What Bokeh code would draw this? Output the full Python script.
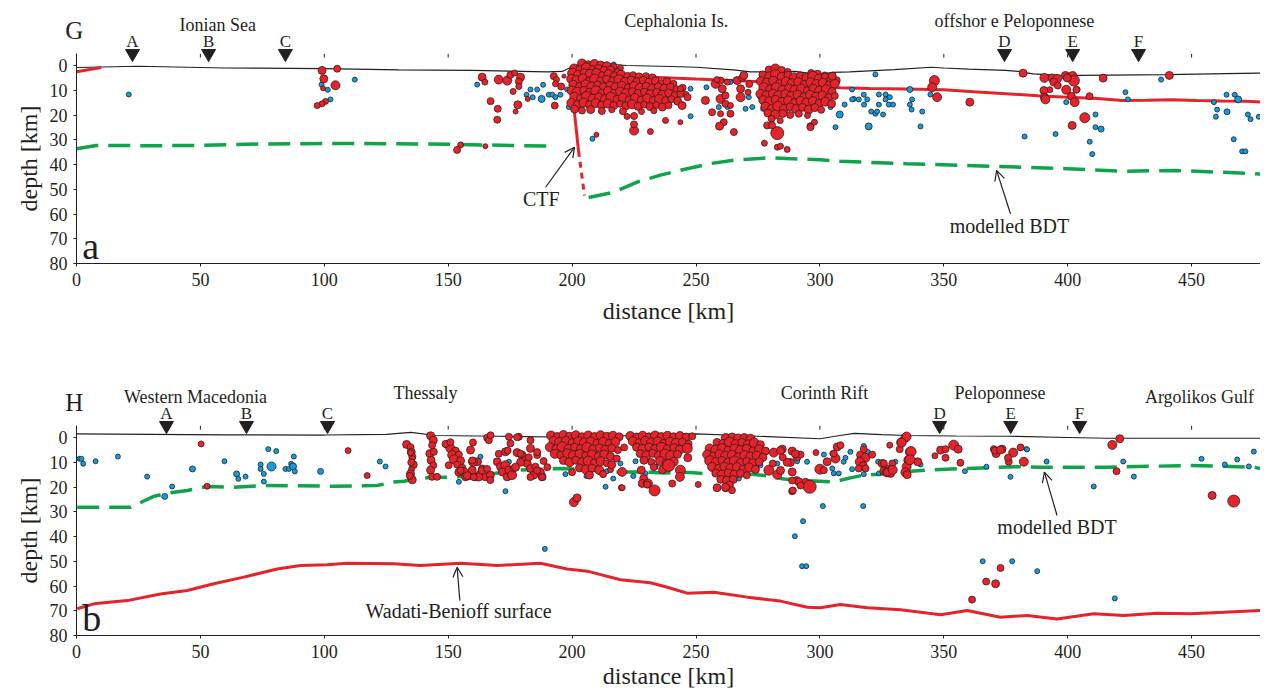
from bokeh.plotting import figure
from bokeh.models import Range1d, FixedTicker, Label, Arrow, OpenHead, ColumnDataSource
from bokeh.layouts import column
from bokeh.core.properties import value
from bokeh.embed import file_html
from bokeh.resources import INLINE

FONT = "Liberation Serif"
TXT = "#231f20"
RED = "#e4232a"
RED_EDGE = "#3a1c1c"
BLUE = "#1c9ad6"
BLUE_EDGE = "#10243a"
GREEN = "#10a34a"

XTICKS = [0, 50, 100, 150, 200, 250, 300, 350, 400, 450]
YTICKS = [0, 10, 20, 30, 40, 50, 60, 70, 80]
TOP_TICKS = [50, 100, 150, 200, 250, 300, 350, 400, 450]

# ---------------- panel a (profile G) ----------------
A_PANEL, A_PROFILE = "a", "G"
A_REGIONS = ["Ionian Sea", "Cephalonia Is.", "offshor e Peloponnese"]
A_REGION_X = [57.0, 242.0, 378.5]
A_REGION_D = [-16.4, -18.0, -17.8]
A_MARK_NAMES = ["A", "B", "C", "D", "E", "F"]
A_MARK_X = [22.6, 53.3, 84.3, 374.5, 402.0, 428.6]

A_SURF_X = [0, 10, 25, 35, 60, 100, 130, 160, 190, 196, 200, 204, 210, 216, 222, 240, 250, 265, 272, 283, 290, 296, 301, 305, 312, 330, 345, 350, 360, 375, 380, 386, 395, 405, 440, 470, 478]
A_SURF_D = [0.8, 0.6, 0.3, 0.5, 1.0, 1.3, 1.8, 2.0, 2.6, 2.4, 0.5, -0.8, -1.2, -0.5, 0.0, 0.4, 0.7, 1.8, 2.6, 2.6, 2.4, 3.2, 3.5, 2.8, 2.6, 1.7, 0.7, 1.0, 1.5, 2.0, 2.4, 3.4, 3.9, 4.0, 3.7, 3.2, 3.1]

A_RED0_X = [0, 10]
A_RED0_D = [2.5, 0.8]
A_RED_X = [199.5, 210, 220, 235, 250, 265, 281, 300, 308, 320, 335, 350, 362, 375, 388, 400, 412, 422, 432, 442, 452, 462, 472, 478]
A_RED_D = [2.0, 3.5, 4.2, 4.8, 5.5, 6.1, 6.8, 8.3, 9.0, 9.3, 9.5, 9.8, 10.6, 11.4, 12.2, 12.8, 13.3, 14.1, 14.0, 13.8, 14.1, 14.3, 14.4, 14.8]
CTF_X = [199.5, 201.0, 202.6]
CTF_D = [2.0, 19.5, 34.5]
CTF_DASH_X = [202.6, 205.0]
CTF_DASH_D = [34.5, 52.5]

A_BDT1_X = [0, 8, 30, 50, 75, 100, 125, 150, 175, 193]
A_BDT1_D = [33.6, 32.3, 32.4, 32.3, 31.7, 31.5, 31.6, 31.8, 32.3, 32.6]
A_BDT2_X = [206.7, 216.8, 226.3, 236, 246.4, 256, 266.6, 280, 300.2, 308.3, 335.2, 368.8, 399.8, 422.5, 442.8, 456.3, 477.8]
A_BDT2_D = [53.3, 51.2, 47.1, 44.2, 41.7, 39.6, 38.1, 37.3, 38.1, 38.7, 39.7, 40.7, 41.7, 42.7, 42.4, 42.9, 43.8]

A_RED_EQ = [
    (99.1, 2.0, 8), (105.2, 1.3, 7), (99.8, 5.4, 8), (104.5, 8.0, 9), (99.5, 9.2, 5), (100.5, 14.5, 6), (99.1, 15.5, 6), (97.1, 16.2, 6),
    (163.7, 4.7, 8), (164.8, 6.7, 6), (170.4, 5.7, 9), (173.8, 6.1, 9), (175.1, 3.8, 7), (176.8, 3.0, 6), (179.2, 4.7, 8), (178.5, 6.5, 7),
    (178.5, 8.5, 6), (176.2, 10.5, 6), (167.1, 14.4, 7), (170.0, 17.5, 7), (169.8, 21.9, 7), (177.2, 18.6, 5), (178.1, 15.9, 8), (182.1, 13.5, 5),
    (192.6, 4.3, 7), (193.7, 5.7, 6), (193.3, 7.4, 6), (195.6, 8.5, 7), (193.0, 16.2, 7), (196.7, 4.3, 4), (155.0, 32.1, 6), (153.6, 34.1, 7),
    (165.0, 32.6, 5), (209.8, 28.0, 5),
    (204.0, -0.8, 9), (206.5, -0.3, 8), (209.0, -0.6, 9), (211.5, -0.2, 8), (214.0, 0.3, 9), (216.8, 0.6, 7), (219.5, 1.0, 6),
    (200.8, 1.2, 9), (203.1, 1.6, 8), (205.7, 1.0, 10), (208.2, 1.9, 9), (210.6, 1.2, 8), (213.0, 2.2, 9), (215.6, 1.8, 8), (218.3, 2.6, 7),
    (200.2, 3.1, 10), (202.4, 3.8, 9), (204.9, 2.9, 8), (207.3, 3.6, 10), (209.8, 3.0, 9), (212.2, 4.1, 8), (214.7, 3.4, 9), (217.1, 4.2, 8),
    (219.8, 3.7, 9), (222.4, 4.4, 8), (224.6, 3.9, 7), (227.0, 4.6, 8), (229.8, 4.3, 7), (232.4, 5.0, 8),
    (199.6, 5.4, 9), (201.9, 6.1, 10), (204.3, 5.2, 9), (206.8, 6.3, 8), (209.1, 5.5, 10), (211.7, 6.4, 9), (214.0, 5.6, 8), (216.5, 6.5, 9),
    (218.9, 5.8, 10), (221.3, 6.6, 9), (223.8, 5.9, 8), (226.2, 6.8, 9), (228.7, 6.0, 8), (231.1, 6.9, 9), (233.6, 6.2, 8), (236.0, 7.1, 7),
    (238.3, 6.5, 8), (240.9, 7.4, 7),
    (200.5, 7.8, 9), (203.0, 8.5, 8), (205.4, 7.6, 9), (207.9, 8.7, 10), (210.3, 7.9, 8), (212.8, 8.8, 9), (215.2, 8.0, 8), (217.7, 8.9, 10),
    (220.1, 8.2, 9), (222.6, 9.1, 8), (225.0, 8.3, 9), (227.5, 9.2, 10), (229.9, 8.4, 8), (232.4, 9.3, 9), (234.8, 8.6, 8), (237.3, 9.4, 9),
    (239.7, 8.8, 8), (242.2, 9.6, 7), (244.6, 9.0, 7),
    (199.8, 10.1, 9), (202.2, 10.8, 10), (204.7, 10.0, 8), (207.1, 11.0, 9), (209.6, 10.2, 10), (212.0, 11.1, 8), (214.5, 10.3, 9), (216.9, 11.2, 8),
    (219.4, 10.5, 9), (221.8, 11.4, 10), (224.3, 10.6, 8), (226.7, 11.5, 9), (229.2, 10.8, 8), (231.6, 11.6, 9), (234.1, 10.9, 8), (236.5, 11.8, 9),
    (239.0, 11.1, 8), (241.4, 11.9, 7), (243.9, 11.3, 8), (246.0, 11.7, 6),
    (200.9, 12.6, 9), (203.4, 13.3, 8), (205.8, 12.5, 10), (208.3, 13.4, 9), (210.7, 12.7, 8), (213.2, 13.6, 9), (215.6, 12.8, 10), (218.1, 13.7, 8),
    (220.5, 13.0, 9), (223.0, 13.9, 8), (225.4, 13.1, 9), (227.9, 14.0, 8), (230.3, 13.3, 9), (232.8, 14.1, 8), (235.2, 13.5, 9), (237.7, 14.3, 8),
    (240.1, 13.6, 7), (242.6, 14.4, 8),
    (199.7, 15.1, 9), (202.1, 15.8, 8), (204.6, 15.0, 9), (207.0, 15.9, 8), (209.5, 15.2, 9), (211.9, 16.0, 8), (214.4, 15.4, 9), (216.8, 16.2, 8),
    (219.3, 15.5, 7), (221.7, 16.3, 8), (224.2, 15.7, 9), (226.6, 16.5, 8), (229.1, 15.8, 7), (231.5, 16.6, 8), (234.0, 16.0, 7), (236.4, 16.8, 8),
    (238.9, 16.1, 7), (201.0, 17.6, 8), (204.0, 18.2, 7), (207.5, 17.8, 8), (212.0, 18.4, 7), (216.0, 17.9, 6), (220.5, 18.5, 7), (228.0, 18.6, 6),
    (233.0, 18.3, 6), (225.0, 20.4, 7),
    (225.0, 26.3, 9), (231.6, 26.7, 6), (225.0, 23.8, 7), (237.7, 22.2, 6), (243.7, 22.9, 5), (222.2, 20.6, 6), (244.4, 16.2, 8), (243.7, 9.4, 6),
    (246.6, 12.8, 7),
    (257.9, 7.4, 9), (259.9, 6.1, 7), (260.6, 9.4, 8), (259.9, 13.5, 9), (261.9, 12.1, 7), (261.9, 15.5, 7), (266.6, 6.1, 8), (268.6, 5.1, 7),
    (268.0, 9.4, 8), (269.3, 4.0, 8), (268.0, 12.8, 9), (253.8, 14.1, 8), (256.5, 18.9, 7), (259.9, 19.5, 6), (263.9, 16.2, 6), (263.9, 19.5, 7),
    (261.2, 22.9, 7), (259.5, 24.5, 8), (258.5, 5.7, 6), (262.6, 6.7, 6), (265.3, 26.9, 7), (271.5, 7.5, 7), (271.0, 10.8, 6),
    (279.5, 1.8, 8), (282.0, 1.2, 9), (284.5, 2.0, 8), (287.0, 2.6, 7), (296.5, 3.0, 7), (299.0, 3.5, 8), (302.0, 4.0, 7),
    (277.0, 3.8, 8), (279.6, 4.4, 9), (282.1, 3.6, 10), (284.6, 4.6, 9), (287.1, 3.9, 8), (289.6, 4.8, 9), (292.1, 4.2, 8), (294.6, 5.0, 9),
    (297.1, 4.4, 10), (299.6, 5.3, 9), (302.1, 4.7, 8), (304.6, 5.5, 9), (306.8, 6.0, 7),
    (276.2, 6.4, 9), (278.7, 7.1, 10), (281.2, 6.2, 9), (283.7, 7.3, 8), (286.2, 6.5, 9), (288.7, 7.4, 10), (291.2, 6.7, 9), (293.7, 7.6, 8),
    (296.2, 6.8, 9), (298.7, 7.7, 10), (301.2, 7.0, 9), (303.7, 7.9, 8), (306.0, 7.3, 9),
    (277.4, 9.0, 10), (279.9, 9.7, 9), (282.4, 8.9, 10), (284.9, 9.9, 9), (287.4, 9.1, 8), (289.9, 10.0, 10), (292.4, 9.3, 9), (294.9, 10.2, 8),
    (297.4, 9.4, 9), (299.9, 10.3, 10), (302.4, 9.6, 9), (304.9, 10.5, 8),
    (276.0, 11.5, 9), (278.5, 12.2, 10), (281.0, 11.4, 9), (283.5, 12.4, 11), (286.0, 11.6, 9), (288.5, 12.5, 10), (291.0, 11.8, 9), (293.5, 12.7, 8),
    (296.0, 11.9, 9), (298.5, 12.8, 10), (301.0, 12.1, 9), (303.5, 13.0, 8), (306.0, 12.3, 7),
    (277.2, 14.0, 9), (279.7, 14.7, 10), (282.2, 13.9, 9), (284.7, 14.9, 10), (287.2, 14.1, 9), (289.7, 15.0, 8), (292.2, 14.3, 9), (294.7, 15.2, 10),
    (297.2, 14.4, 9), (299.7, 15.3, 8), (302.2, 14.6, 9), (304.7, 15.5, 8),
    (278.0, 16.6, 9), (280.5, 17.3, 8), (283.0, 16.5, 10), (285.5, 17.5, 9), (288.0, 16.7, 8), (290.5, 17.6, 9), (293.0, 16.9, 8), (295.5, 17.8, 9),
    (298.0, 17.0, 8), (300.5, 17.9, 7), (279.0, 19.2, 8), (282.0, 19.8, 9), (285.0, 19.4, 8), (288.0, 20.0, 7), (291.5, 19.5, 7), (295.0, 20.2, 6),
    (280.5, 21.5, 7), (284.0, 22.3, 6),
    (282.8, 27.3, 13), (277.6, 31.4, 6), (282.8, 33.0, 6), (284.1, 32.6, 6), (286.8, 33.9, 6), (296.2, 24.5, 7), (297.8, 22.9, 6), (278.7, 24.2, 7),
    (280.7, 24.2, 7), (296.2, 24.9, 7), (305.0, 4.3, 8),
    (346.2, 6.1, 10), (345.3, 8.8, 9), (347.3, 12.8, 9), (360.5, 14.8, 8), (382.0, 3.1, 8),
    (390.6, 5.0, 9), (393.7, 5.0, 8), (395.7, 5.4, 9), (399.1, 4.0, 8), (402.0, 4.0, 8), (402.5, 6.1, 11), (399.8, 5.0, 8), (394.4, 6.7, 8),
    (396.0, 8.1, 7), (392.8, 9.8, 6), (390.4, 10.1, 8), (390.6, 12.8, 8), (391.0, 13.7, 9), (399.4, 9.8, 9), (403.5, 9.8, 7), (401.5, 12.4, 8),
    (402.8, 14.8, 9), (408.8, 12.4, 7), (414.3, 5.1, 8), (406.9, 21.1, 10), (401.8, 24.2, 8), (441.0, 4.0, 8),
]
A_BLUE_EQ = [
    (21.1, 11.7, 5), (98.9, 7.7, 5), (101.4, 9.8, 5), (102.5, 13.7, 5), (112.3, 5.7, 5),
    (161.7, 7.7, 5), (183.2, 9.7, 5), (185.9, 9.7, 5), (188.3, 7.8, 5), (181.6, 11.8, 5), (184.1, 12.8, 5), (187.7, 13.5, 7), (190.6, 11.8, 5),
    (192.0, 11.8, 5), (193.3, 12.8, 5), (195.3, 11.8, 5), (198.0, 9.7, 5), (198.7, 16.8, 5), (216.8, -0.4, 5), (219.5, 2.7, 5), (208.2, 29.6, 5),
    (247.8, 9.4, 5), (247.8, 20.5, 5), (254.2, 8.8, 5), (259.2, 16.8, 5), (263.9, 6.7, 5), (262.8, 16.8, 5), (270.0, 17.5, 5), (271.3, 12.8, 5),
    (272.7, 16.8, 5), (276.0, 12.8, 5), (278.0, 14.1, 5), (277.1, 17.5, 5), (279.4, 9.4, 5), (294.2, 9.4, 5), (304.3, 16.8, 5), (306.3, 24.9, 5),
    (308.0, 19.8, 7), (310.0, 15.8, 5), (313.0, 9.7, 5), (313.7, 13.5, 5), (317.7, 11.8, 5),
    (322.4, 3.6, 5), (313.0, 13.7, 5), (315.7, 13.7, 5), (317.8, 15.8, 5), (319.1, 13.7, 5), (320.7, 18.6, 5), (322.4, 19.5, 5), (323.1, 18.6, 5),
    (325.5, 19.8, 5), (319.7, 24.6, 7), (323.8, 11.7, 5), (323.8, 15.8, 5), (326.5, 11.7, 5), (326.5, 13.7, 5), (328.2, 12.8, 5), (327.8, 15.8, 5),
    (329.5, 15.8, 5), (336.3, 9.7, 6), (337.2, 13.7, 5), (336.3, 15.8, 5), (337.0, 17.8, 5), (341.3, 18.6, 5), (340.6, 24.6, 5), (344.6, 11.7, 5),
    (382.6, 28.7, 5), (395.1, 27.7, 5), (399.4, 14.8, 5), (404.0, 9.6, 5),
    (423.3, 10.8, 5), (424.3, 13.7, 5), (437.7, 5.7, 5), (411.2, 19.8, 5), (411.2, 24.9, 5), (413.5, 25.7, 6), (408.9, 30.8, 5), (409.9, 35.8, 5),
    (459.0, 14.8, 5), (464.1, 11.8, 5), (467.4, 11.8, 5), (468.8, 13.7, 7), (460.3, 17.8, 5), (459.8, 20.7, 5), (464.3, 18.7, 6), (472.7, 19.8, 5),
    (473.8, 21.7, 5), (477.1, 20.7, 5), (467.0, 29.8, 5), (470.4, 34.7, 5), (471.7, 34.7, 5),
]
A_NOTES = ["CTF", "modelled BDT"]
A_NOTE_X = [187.6, 376.5]
A_NOTE_D = [54.0, 65.0]
A_ARROW_FROM = [(189.3, 49.2), (376.9, 59.9)]
A_ARROW_TO = [(201.0, 33.0), (371.3, 42.4)]

# ---------------- panel b (profile H) ----------------
B_PANEL, B_PROFILE = "b", "H"
B_REGIONS = ["Western Macedonia", "Thessaly", "Corinth Rift", "Peloponnese", "Argolikos Gulf"]
B_REGION_X = [48.0, 140.8, 301.9, 372.7, 453.2]
B_REGION_D = [-16.4, -18.0, -17.8, -17.8, -16.5]
B_MARK_NAMES = ["A", "B", "C", "D", "E", "F"]
B_MARK_X = [36.3, 68.6, 101.3, 348.3, 377.0, 404.8]

B_SURF_X = [0, 30, 60, 100, 125, 135, 145, 170, 200, 230, 250, 275, 300, 308, 314, 325, 335, 355, 376, 400, 416, 450, 478]
B_SURF_D = [-1.5, -1.3, -1.1, -1.0, -1.3, -2.1, -0.8, -0.5, -0.1, -1.0, -1.5, -0.5, 0.5, -0.8, -1.7, -1.2, -0.8, -0.6, -0.5, 0.0, 0.3, 0.3, 0.3]

B_WB_X = [0.3, 7, 20.5, 33.9, 44.7, 55.4, 67.5, 81, 90.4, 101.2, 109.2, 128, 138.8, 155, 169.8, 187.2, 198, 206.1, 219.5, 231.6, 238.4, 246.4, 257.2, 270.7, 284.1, 294.9, 300.2, 308.3, 319.1, 332.5, 348.7, 359.4, 372.9, 383.6, 395.7, 410.5, 422.6, 436.1, 449.6, 463, 478]
B_WB_D = [69.2, 67.2, 65.9, 63.2, 61.8, 59.1, 56.4, 53.1, 51.7, 51.4, 50.8, 51.0, 51.7, 50.8, 51.7, 50.8, 53.1, 54.0, 57.5, 58.7, 60.5, 62.9, 62.5, 64.5, 66.1, 68.6, 68.8, 67.5, 68.8, 69.6, 71.6, 69.9, 72.6, 71.9, 73.3, 71.2, 71.9, 71.0, 71.2, 70.6, 69.9]

B_BDT_X = [0.3, 21.8, 31.2, 36.6, 44.7, 52.7, 63.5, 77, 103.8, 121.3, 128, 132.1, 137.5, 142.9, 153.6, 165, 177.8, 188.6, 194, 202, 212.8, 218.2, 226.3, 237, 247.8, 258.5, 269.3, 278.7, 285.5, 292.2, 300.2, 305.6, 312.3, 317.7, 331.2, 338, 348.7, 359.4, 370.2, 379.6, 389, 415.9, 449.5, 475.1, 478]
B_BDT_D = [28.2, 28.2, 23.8, 22.5, 21.4, 19.8, 20.1, 19.4, 19.7, 19.4, 18.0, 17.7, 16.6, 16.2, 15.9, 15.0, 13.2, 12.8, 12.5, 12.8, 13.6, 13.9, 13.9, 14.3, 14.1, 15.0, 14.5, 15.5, 16.8, 17.4, 17.7, 18.0, 16.3, 15.2, 14.3, 13.5, 12.9, 12.5, 12.1, 11.8, 12.0, 12.0, 11.3, 12.0, 12.6]

B_RED_EQ = [
    (50.3, 2.6, 6), (52.7, 19.7, 6), (109.6, 5.3, 6), (117.3, 15.4, 6),
    (133.2, 2.8, 8), (134.8, 3.9, 7), (135.1, 5.9, 8), (135.5, 7.7, 7), (135.9, 11.0, 8), (135.2, 12.9, 6), (134.8, 14.7, 8), (135.5, 17.1, 8),
    (134.8, 6.1, 6), (135.5, 8.5, 6), (135.1, 10.0, 7), (134.5, 15.5, 7),
    (142.9, -0.7, 8), (144.0, 1.1, 8), (143.5, 3.1, 7), (142.6, 6.5, 8), (144.2, 5.8, 7), (143.1, 9.2, 8), (144.0, 11.2, 7), (142.9, 13.2, 8),
    (143.5, 15.9, 7), (145.5, 15.9, 7),
    (149.6, 2.8, 8), (150.9, 4.4, 9), (152.9, 5.5, 8), (151.6, 7.1, 9), (154.3, 6.9, 7), (152.3, 8.8, 9), (155.0, 9.4, 8), (153.6, 11.0, 7),
    (155.6, 12.4, 8), (154.3, 14.0, 8), (156.3, 14.0, 9), (150.2, 11.2, 7), (148.9, 2.6, 7), (150.9, 1.9, 7), (157.0, 15.9, 8), (159.0, 15.2, 9),
    (161.0, 15.9, 8), (163.0, 15.0, 9), (165.0, 15.9, 8), (167.0, 15.2, 8), (167.0, 17.2, 7), (159.7, 13.2, 8), (163.7, 12.5, 7), (161.7, 9.8, 8),
    (160.0, 9.8, 9), (159.0, 5.1, 8), (160.0, 2.0, 7), (165.7, 0.1, 7), (166.4, 1.1, 7), (167.1, -0.9, 7), (159.7, 9.3, 7), (163.7, 13.3, 8),
    (165.7, 12.7, 7), (157.7, 15.4, 8), (155.0, 13.3, 7), (162.3, 16.0, 8), (160.3, 16.0, 7),
    (169.8, 9.8, 8), (171.1, 11.8, 8), (173.1, 11.2, 9), (171.8, 13.9, 8), (174.5, 13.2, 8), (173.8, 15.9, 8), (175.8, 15.2, 9), (176.5, 12.5, 7),
    (173.1, 5.8, 8), (175.1, 2.4, 7), (174.5, -0.3, 7), (178.5, -0.3, 7), (177.8, 6.1, 8), (179.8, 7.1, 8), (180.5, 9.2, 7), (181.9, 10.5, 8),
    (183.2, 12.5, 8), (185.2, 11.8, 7), (186.6, 13.9, 8), (184.5, 15.2, 8), (187.9, 15.9, 8), (185.9, 7.1, 7), (183.2, 4.4, 8), (183.2, 1.1, 7),
    (170.4, 6.6, 7), (174.0, 5.3, 7), (179.2, 10.0, 8), (179.2, 6.6, 7), (182.5, 8.0, 7), (185.9, 5.9, 7), (187.2, 14.0, 8), (187.9, 16.0, 7),
    (183.2, 16.0, 7), (177.8, -0.1, 7), (177.2, 12.0, 8), (185.9, 13.3, 7), (188.5, 9.5, 7),
    (191.5, -0.8, 9), (194.0, -0.4, 8), (196.5, -1.0, 9), (199.0, -0.5, 8), (201.5, -0.9, 9), (204.0, -0.3, 8), (206.5, -0.8, 9), (209.0, -0.4, 8),
    (211.5, -0.9, 9), (214.0, -0.5, 8), (216.5, -0.7, 9), (219.0, -0.3, 8),
    (192.5, 1.4, 9), (195.0, 2.0, 10), (197.5, 1.3, 9), (200.0, 2.1, 8), (202.5, 1.5, 9), (205.0, 2.2, 10), (207.5, 1.6, 9), (210.0, 2.3, 8),
    (212.5, 1.7, 9), (215.0, 2.4, 8), (217.5, 1.8, 9),
    (191.0, 3.9, 9), (193.5, 4.5, 8), (196.0, 3.7, 10), (198.5, 4.6, 9), (201.0, 3.9, 8), (203.5, 4.7, 9), (206.0, 4.0, 10), (208.5, 4.8, 9),
    (211.0, 4.2, 8), (213.5, 5.0, 9), (216.0, 4.3, 8), (218.5, 5.1, 7),
    (193.0, 6.6, 9), (195.5, 7.2, 8), (198.0, 6.4, 9), (200.5, 7.3, 10), (203.0, 6.6, 9), (205.5, 7.4, 8), (208.0, 6.8, 9), (210.5, 7.6, 8),
    (213.0, 6.9, 9), (215.5, 7.7, 8),
    (196.5, 9.3, 8), (199.0, 10.0, 9), (201.5, 9.2, 8), (204.0, 10.1, 9), (206.5, 9.5, 10), (209.0, 10.3, 8), (211.5, 9.6, 9), (214.0, 10.4, 7),
    (203.0, 12.3, 8), (205.5, 12.9, 9), (208.0, 12.4, 8), (211.0, 13.2, 9), (212.5, 14.8, 7), (207.0, 15.2, 8), (200.0, 14.0, 7), (215.5, 13.0, 6),
    (200.7, 26.1, 9), (202.0, 24.4, 8), (219.9, 20.3, 6), (216.0, 11.0, 8), (218.0, 8.5, 7), (221.0, 4.0, 7), (190.0, 12.0, 7),
    (223.5, -0.6, 9), (226.0, -0.2, 8), (228.5, -0.7, 9), (231.0, -0.3, 8), (233.5, -0.8, 9), (236.0, -0.4, 8), (238.5, -0.7, 9), (241.0, -0.3, 8),
    (243.5, -0.6, 9), (246.0, -0.2, 8), (248.5, -0.5, 7),
    (224.5, 1.5, 9), (227.0, 2.1, 8), (229.5, 1.4, 9), (232.0, 2.2, 10), (234.5, 1.6, 9), (237.0, 2.3, 8), (239.5, 1.7, 9), (242.0, 2.4, 10),
    (244.5, 1.8, 8), (247.0, 2.5, 7),
    (226.0, 3.9, 8), (228.5, 4.6, 9), (231.0, 3.8, 8), (233.5, 4.7, 9), (236.0, 4.0, 10), (238.5, 4.8, 9), (241.0, 4.1, 8), (243.5, 4.9, 9),
    (246.5, 4.4, 10),
    (227.5, 6.5, 8), (230.0, 7.2, 9), (232.5, 6.4, 8), (235.0, 7.3, 9), (237.5, 6.7, 10), (240.0, 7.5, 11), (242.5, 6.8, 8),
    (229.0, 9.2, 8), (232.0, 9.9, 7), (235.5, 9.5, 9), (238.0, 10.4, 8), (241.0, 9.8, 9), (233.0, 12.0, 7), (236.5, 13.0, 8),
    (220.2, 13.9, 9), (220.2, 20.3, 6), (227.9, 13.2, 8), (228.9, 16.6, 8), (228.3, 18.6, 8), (230.6, 18.6, 9), (233.3, 21.4, 11), (240.4, 18.6, 7),
    (243.7, 13.2, 10), (243.5, 15.9, 9), (246.7, 8.2, 8), (250.9, 19.0, 6), (239.0, 11.3, 12), (230.3, 19.0, 7),
    (262.0, 0.2, 9), (264.5, -0.2, 8), (267.0, 0.4, 9), (269.5, 0.0, 8), (272.0, 0.5, 9),
    (258.5, 2.0, 8), (261.0, 2.6, 9), (263.5, 1.9, 10), (266.0, 2.7, 9), (268.5, 2.0, 8), (271.0, 2.8, 9), (273.5, 2.2, 10), (276.0, 2.9, 8),
    (255.5, 4.4, 9), (258.0, 5.0, 10), (260.5, 4.3, 9), (263.0, 5.1, 8), (265.5, 4.5, 9), (268.0, 5.3, 10), (270.5, 4.6, 9), (273.0, 5.4, 8),
    (275.5, 4.8, 9), (278.0, 5.5, 8),
    (254.5, 6.9, 9), (257.0, 7.5, 8), (259.5, 6.8, 9), (262.0, 7.6, 10), (264.5, 7.0, 9), (267.0, 7.8, 8), (269.5, 7.1, 9), (272.0, 7.9, 10),
    (274.5, 7.3, 9), (277.0, 8.0, 8),
    (255.5, 9.4, 10), (258.0, 10.0, 9), (260.5, 9.3, 8), (263.0, 10.1, 9), (265.5, 9.5, 10), (268.0, 10.3, 9), (270.5, 9.6, 8), (273.0, 10.4, 9),
    (275.5, 9.8, 8),
    (256.5, 11.9, 9), (259.0, 12.5, 8), (261.5, 11.8, 9), (264.0, 12.6, 10), (266.5, 12.0, 9), (269.0, 12.8, 8), (271.5, 12.1, 9), (274.0, 12.9, 8),
    (258.0, 14.4, 8), (260.5, 15.0, 9), (263.0, 14.3, 8), (265.5, 15.1, 9), (268.0, 14.5, 8), (270.5, 15.3, 7),
    (260.0, 16.9, 8), (262.5, 17.5, 9), (265.0, 17.0, 8), (263.5, 19.2, 8), (262.0, 20.5, 7), (264.5, 21.3, 7), (258.5, 20.3, 8), (261.9, 20.1, 8),
    (281.4, 6.1, 9), (284.8, 4.7, 8), (288.8, 5.5, 8), (290.8, 7.8, 8), (288.1, 10.1, 8), (292.2, 6.9, 7), (279.4, 13.2, 10), (282.8, 15.0, 9),
    (288.8, 13.9, 8), (290.6, 17.2, 7), (291.5, 17.9, 8), (294.2, 17.9, 7), (295.9, 19.9, 13), (288.8, 21.7, 7), (300.0, 12.8, 10), (301.6, 13.2, 7),
    (302.9, 9.8, 8), (298.4, 6.1, 6), (284.1, 5.3, 8), (290.1, 6.6, 8), (286.8, 10.0, 8), (284.1, 13.3, 8), (288.8, 17.4, 7), (292.2, 19.4, 7),
    (289.1, 21.4, 7), (285.0, 8.0, 7), (281.0, 10.5, 7),
    (307.0, 3.8, 8), (308.3, 3.1, 7), (306.3, 8.5, 9), (305.6, 6.5, 7), (316.4, 7.1, 8), (317.7, 4.7, 7), (318.4, 8.2, 9), (316.1, 9.8, 9),
    (317.5, 11.4, 8), (315.7, 12.5, 7), (318.4, 12.5, 7), (321.1, 6.9, 7), (325.1, 10.5, 8), (326.5, 12.5, 8), (329.2, 10.5, 7), (325.8, 13.6, 8),
    (327.1, 14.1, 9), (328.5, 14.5, 8), (328.2, 3.1, 6), (332.8, 2.0, 9), (334.5, 0.1, 9), (332.2, 4.7, 7), (336.3, 5.8, 9), (335.9, 9.2, 10),
    (335.0, 11.8, 9), (334.5, 14.1, 9), (335.2, 15.0, 8), (339.5, 9.8, 8), (346.4, 7.4, 6), (348.7, 5.1, 8), (350.7, 4.7, 7), (350.7, 8.2, 7),
    (354.0, 3.1, 10), (355.8, 4.7, 8), (356.7, 10.2, 7), (370.2, 4.7, 7), (373.5, 4.7, 8), (371.1, 6.5, 8), (378.0, 6.1, 9), (376.2, 9.8, 7),
    (381.0, 4.0, 7), (382.3, 9.8, 9), (370.6, 5.3, 7), (372.9, 5.0, 8), (375.9, 8.2, 7), (335.0, -0.4, 9), (333.0, 2.1, 9), (327.2, 14.0, 8),
    (329.4, 13.1, 9), (325.8, 10.4, 7), (336.8, 5.7, 10), (336.3, 9.0, 10),
    (361.4, 65.5, 7), (367.1, 58.2, 7), (370.9, 59.1, 8), (372.9, 52.7, 7), (458.3, 23.4, 8), (467.0, 25.7, 12), (419.7, 13.6, 7), (418.0, 3.0, 9),
    (421.0, 0.5, 8),
]
B_BLUE_EQ = [
    (1.2, 8.6, 5), (2.0, 8.6, 5), (2.7, 10.6, 5), (7.7, 9.6, 5), (16.7, 7.7, 5), (28.5, 15.8, 5), (38.6, 19.8, 5), (35.6, 23.8, 6),
    (46.8, 12.7, 6), (59.7, 9.6, 5), (64.6, 14.7, 6), (65.3, 16.7, 5), (68.2, 15.8, 5), (74.3, 10.9, 5), (74.3, 12.7, 5), (75.6, 14.7, 5),
    (75.6, 17.8, 5), (77.4, 4.7, 5), (78.7, 11.7, 9), (80.6, 5.5, 5), (84.3, 12.7, 5), (85.7, 12.7, 5), (86.6, 10.6, 5), (87.7, 7.7, 5),
    (87.4, 11.7, 7), (88.1, 13.7, 5), (98.5, 13.7, 6), (122.4, 9.7, 5), (124.7, 11.7, 5),
    (173.1, 21.7, 5), (189.0, 45.0, 5), (163.0, 7.8, 5), (162.4, 9.8, 5), (174.5, 9.8, 5), (154.3, 17.9, 5), (197.3, 14.8, 5), (205.8, 15.6, 5),
    (207.4, 8.8, 5), (215.8, 7.8, 5), (214.1, 13.6, 5), (216.6, 16.6, 5), (213.5, 19.9, 5),
    (219.5, 10.5, 5), (225.6, 9.6, 5), (230.3, 7.8, 5), (233.7, 11.8, 5), (236.4, 12.8, 5), (224.7, 15.6, 5), (229.6, 14.5, 5),
    (254.5, 7.8, 5), (267.3, 16.6, 5), (276.0, 11.2, 5), (282.8, 10.5, 5), (286.8, 9.8, 5), (290.8, 9.6, 5), (294.8, 9.8, 5), (301.6, 6.9, 5),
    (305.0, 6.5, 5), (301.2, 27.7, 5), (293.2, 33.8, 5), (289.9, 39.9, 5), (292.8, 52.0, 5), (294.5, 52.0, 5),
    (305.0, 12.5, 5), (305.6, 14.5, 5), (307.6, 14.5, 5), (309.6, 9.8, 5), (310.3, 8.2, 5), (312.3, 5.8, 5), (313.0, 12.8, 5), (317.7, 3.4, 5),
    (319.3, 5.8, 5), (317.7, 14.8, 5), (323.5, 9.8, 5), (323.8, 14.5, 5), (330.5, 9.8, 5), (340.6, 10.9, 5), (358.5, 13.6, 5), (367.2, 11.8, 5),
    (376.9, 15.9, 5), (383.4, 4.7, 5), (317.5, 27.7, 5),
    (365.7, 50.0, 5), (377.6, 50.0, 5), (387.7, 54.0, 5), (419.0, 65.0, 5), (410.5, 19.8, 5), (426.7, 15.8, 5), (422.4, 9.7, 5), (454.0, 8.6, 5),
    (463.4, 10.9, 5), (468.4, 8.9, 5), (473.1, 11.7, 5), (475.1, 5.7, 5), (391.5, 9.7, 5), (383.6, 4.8, 5),
]
B_NOTES = ["modelled BDT", "Wadati-Benioff surface"]
B_NOTE_X = [395.7, 154.2]
B_NOTE_D = [36.0, 70.3]
B_ARROW_FROM = [(395.7, 31.5), (154.7, 65.9)]
B_ARROW_TO = [(390.6, 14.0), (153.6, 52.4)]

X_LABEL = "distance [km]"
Y_LABEL = "depth [km]"

PX_PER_KM_X = 2.478
PX_PER_KM_Y = 2.475
W = 1260
Y0_LEFT = 76  # canvas x of distance 0


def build(height, zero_y, xlabel_standoff, panel, profile, regions, reg_x, reg_d, marks, mark_x,
          notes, note_x, note_d, arr_from, arr_to):
    x_rng = Range1d(-Y0_LEFT / PX_PER_KM_X, (W - Y0_LEFT) / PX_PER_KM_X)
    y_rng = Range1d((height - zero_y) / PX_PER_KM_Y, -zero_y / PX_PER_KM_Y)
    p = figure(width=W, height=height, x_range=x_rng, y_range=y_rng,
               output_backend="svg", toolbar_location=None, min_border_left=0, min_border_right=0,
               min_border_top=0, min_border_bottom=0)
    p.outline_line_color = None
    p.grid.visible = False
    p.background_fill_color = "white"
    p.border_fill_color = "white"
    for ax in (p.xaxis[0], p.yaxis[0]):
        ax.major_tick_in = 0
        ax.major_tick_out = 3
        ax.minor_tick_line_color = None
        ax.axis_line_color = TXT
        ax.major_tick_line_color = TXT
        ax.major_label_text_font = FONT
        ax.major_label_text_font_size = "18px"
        ax.major_label_text_color = TXT
        ax.axis_label_text_font = FONT
        ax.axis_label_text_font_size = "24px"
        ax.axis_label_text_font_style = "normal"
        ax.axis_label_text_color = TXT
    p.xaxis.ticker = FixedTicker(ticks=XTICKS, minor_ticks=[])
    p.yaxis.ticker = FixedTicker(ticks=YTICKS, minor_ticks=[])
    p.xaxis.fixed_location = 80
    p.yaxis.fixed_location = 0
    p.yaxis.bounds = (-4.7, 80)
    p.xaxis.bounds = (0, 480)
    p.xaxis.major_label_standoff = 6
    p.yaxis.major_label_standoff = 6
    p.yaxis.axis_label = Y_LABEL
    p.xaxis.axis_label = X_LABEL
    p.yaxis.axis_label_standoff = 5
    p.xaxis.axis_label_standoff = xlabel_standoff

    p.segment(x0=TOP_TICKS, y0=[-4.7] * len(TOP_TICKS), x1=TOP_TICKS, y1=[-3.2] * len(TOP_TICKS),
              line_color=TXT, line_width=1)
    p.scatter(x=mark_x, y=[-4.85] * len(mark_x), marker="inverted_triangle", size=14,
              fill_color=TXT, line_color=TXT)
    p.text(x=mark_x, y=[-9.8] * len(mark_x), text=marks, text_font=value(FONT), text_font_size="17px",
           text_align="center", text_baseline="middle", text_color=TXT)
    p.text(x=reg_x, y=reg_d, text=regions, text_font=value(FONT), text_font_size="18px",
           text_align="center", text_baseline="middle", text_color=TXT)
    p.add_layout(Label(x=-0.9, y=-14.2, text=profile, text_font=FONT, text_font_size="25px",
                       text_align="center", text_baseline="middle", text_color=TXT))
    p.add_layout(Label(x=2.3, y=73.0, text=panel, text_font=FONT, text_font_size="38px",
                       text_align="left", text_baseline="alphabetic", text_color=TXT))
    for t, tx, td in zip(notes, note_x, note_d):
        p.add_layout(Label(x=tx, y=td, text=t, text_font=FONT, text_font_size="20px",
                           text_align="center", text_baseline="middle", text_color=TXT))
    for (x0, y0), (x1, y1) in zip(arr_from, arr_to):
        p.add_layout(Arrow(end=OpenHead(size=10, line_width=1.2, line_color=TXT),
                           x_start=x0, y_start=y0, x_end=x1, y_end=y1,
                           line_width=1.2, line_color=TXT))
    return p


def quakes(p, red_eq, blue_eq):
    bs = ColumnDataSource(dict(x=[q[0] for q in blue_eq], y=[q[1] for q in blue_eq], s=[q[2] for q in blue_eq]))
    rs = ColumnDataSource(dict(x=[q[0] for q in red_eq], y=[q[1] for q in red_eq], s=[q[2] for q in red_eq]))
    p.scatter("x", "y", size="s", source=bs, fill_color=BLUE, line_color=BLUE_EDGE, line_width=0.8)
    p.scatter("x", "y", size="s", source=rs, fill_color=RED, line_color=RED_EDGE, line_width=0.8)


# panel a occupies page rows 0..338, depth 0 at row 65
pa = build(338, 65, 9, A_PANEL, A_PROFILE, A_REGIONS, A_REGION_X, A_REGION_D, A_MARK_NAMES, A_MARK_X,
           A_NOTES, A_NOTE_X, A_NOTE_D, A_ARROW_FROM, A_ARROW_TO)
pa.line(A_SURF_X, A_SURF_D, line_color=TXT, line_width=1.2)
pa.line(A_BDT1_X, A_BDT1_D, line_color=GREEN, line_width=3.5, line_dash="22 10")
pa.line(A_BDT2_X, A_BDT2_D, line_color=GREEN, line_width=3.5, line_dash="22 10")
pa.line(A_RED0_X, A_RED0_D, line_color=RED, line_width=3)
pa.line(A_RED_X, A_RED_D, line_color=RED, line_width=3)
pa.line(CTF_X, CTF_D, line_color=RED, line_width=3)
pa.line(CTF_DASH_X, CTF_DASH_D, line_color=RED, line_width=3, line_dash="6 5")
quakes(pa, A_RED_EQ, A_BLUE_EQ)

# panel b occupies page rows 338..690, depth 0 at row 437
pb = build(352, 437 - 338, 2, B_PANEL, B_PROFILE, B_REGIONS, B_REGION_X, B_REGION_D, B_MARK_NAMES, B_MARK_X,
           B_NOTES, B_NOTE_X, B_NOTE_D, B_ARROW_FROM, B_ARROW_TO)
pb.line(B_SURF_X, B_SURF_D, line_color=TXT, line_width=1.2)
pb.line(B_BDT_X, B_BDT_D, line_color=GREEN, line_width=3.5, line_dash="22 10")
pb.line(B_WB_X, B_WB_D, line_color=RED, line_width=3)
quakes(pb, B_RED_EQ, B_BLUE_EQ)

layout = column(pa, pb)
open("out.html", "w").write(file_html(layout, INLINE))
